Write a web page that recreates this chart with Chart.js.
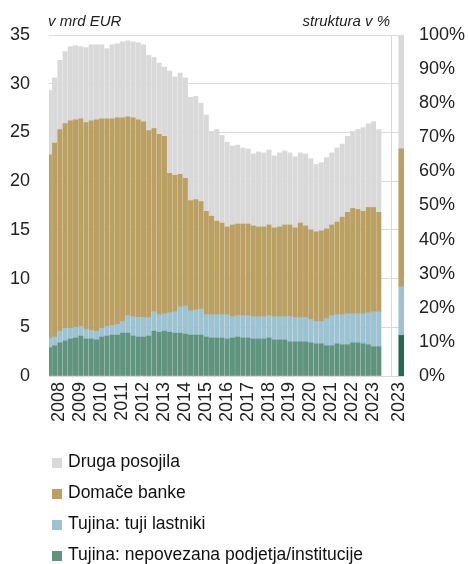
<!DOCTYPE html>
<html>
<head>
<meta charset="utf-8">
<script src="https://cdn.jsdelivr.net/npm/chart.js@4.4.1/dist/chart.umd.min.js"></script>
<style>
  body { margin: 0; background: #fff; font-family: "Liberation Sans", Arial, sans-serif; }
  #wrap { position: relative; width: 468px; height: 564px; overflow: hidden; }
  #chart { position: absolute; left: 0; top: 0; }
  .note { position: absolute; top: 12px; font-size: 15px; font-style: italic; color: #222; }
  #legend { position: absolute; left: 52px; top: 446px; font-size: 17.5px; color: #111; }
  #legend div { height: 31px; line-height: 31px; white-space: nowrap; }
  #legend span { display: inline-block; width: 10px; height: 10px; margin-right: 6px; vertical-align: -1px; }
</style>
</head>
<body>
<div id="wrap">
  <canvas id="chart" width="468" height="564"></canvas>
  <div class="note" style="left:48px">v mrd EUR</div>
  <div class="note" style="right:78px">struktura v %</div>
  <div id="legend"></div>
</div>
<script>
// cetrtletja 2008Q1 - 2023Q4, v mrd EUR
const years = ['2008','2009','2010','2011','2012','2013','2014','2015','2016','2017','2018','2019','2020','2021','2022','2023'];

const tujinaPodjetja = [
  2.9,3.1,3.4,3.6, 3.8,3.9,4.1,3.8, 3.8,3.7,4.0,4.1, 4.2,4.2,4.4,4.4,
  4.1,4.0,4.0,4.1, 4.6,4.5,4.6,4.5, 4.4,4.4,4.3,4.2, 4.2,4.2,4.0,3.9,
  3.9,3.9,3.8,3.9, 4.0,3.9,3.9,3.8, 3.8,3.8,3.9,3.7, 3.7,3.7,3.5,3.5,
  3.5,3.5,3.4,3.3, 3.3,3.1,3.1,3.3, 3.2,3.2,3.4,3.4, 3.3,3.2,3.0,3.0
];
const tujinaLastniki = [
  1.0,0.9,1.2,1.3, 1.1,1.1,1.0,1.0, 0.9,0.9,0.9,1.0, 1.0,1.1,1.2,1.8,
  2.0,2.0,2.0,1.9, 2.0,1.8,1.8,2.0, 2.2,2.7,2.9,2.5, 2.6,2.7,2.3,2.4,
  2.4,2.4,2.5,2.2, 2.2,2.3,2.3,2.3, 2.3,2.3,2.3,2.4, 2.4,2.4,2.6,2.5,
  2.5,2.5,2.4,2.3, 2.3,2.8,3.1,3.0, 3.1,3.2,3.0,3.0, 3.1,3.3,3.6,3.6
];
const domaceBanke = [
  18.8,19.9,20.7,21.0, 21.3,21.3,21.3,21.2, 21.5,21.7,21.5,21.3, 21.2,21.2,20.9,20.4,
  20.4,20.3,20.1,19.2, 18.8,18.5,18.2,14.3, 14.0,13.6,13.1,11.3, 11.3,11.0,10.6,10.1,
  9.6,9.4,9.0,9.4, 9.4,9.4,9.4,9.3, 9.2,9.2,9.3,9.1, 9.2,9.4,9.4,9.2,
  9.7,9.4,9.2,9.2, 9.3,9.2,9.3,9.5, 10.0,10.4,10.8,10.7, 10.5,10.8,10.7,10.2
];
const drugaPosojila = [
  6.6,6.7,7.1,7.4, 7.6,7.6,7.4,7.7, 7.8,7.7,7.6,7.2, 7.6,7.6,7.8,7.8,
  7.8,7.9,7.9,7.7, 7.3,7.3,7.1,10.5, 10.1,10.4,10.3,10.6, 10.6,10.1,9.9,8.7,
  9.4,9.0,8.7,8.1, 8.1,7.8,7.7,7.4, 7.7,7.6,7.7,7.4, 7.6,7.6,7.4,7.3,
  7.2,7.4,7.3,6.9, 7.0,7.3,7.4,7.6, 7.5,7.8,7.9,8.2, 8.6,8.6,8.8,8.5
];

// struktura v % (zadnje cetrtletje)
const strukturaLabel = '2023';
const strukturaPct = [11.9, 14.3, 40.4, 33.4]; // podjetja, lastniki, domace banke, druga

const names = ['Tujina: nepovezana podjetja/institucije', 'Tujina: tuji lastniki', 'Domače banke', 'Druga posojila'];
const colors = ['#60947f', '#9dc3d2', '#baa062', '#d9d9d9'];
const pctColors = ['#216a4f', '#9dc3d2', '#baa062', '#d9d9d9'];

const PCT_X = 66.4;
const SPLIT_X = 65;

const quarters = [];
years.forEach(y => ['Q1','Q2','Q3','Q4'].forEach(q => quarters.push(y + q)));

const tickPos = years.map((y, i) => i * 4 + 1.5).concat([SPLIT_X, PCT_X]);
const tickText = years.concat(['', strukturaLabel]);

const series = [tujinaPodjetja, tujinaLastniki, domaceBanke, drugaPosojila];

const datasets = series.map((vals, k) => ({
    label: names[k],
    data: vals.map((v, i) => ({ x: i, y: v })),
    backgroundColor: colors[k],
    barThickness: 4.4,
    xAxisID: 'x',
    yAxisID: 'y',
    stack: 'mrd'
}));

strukturaPct.forEach((v, k) => {
    datasets.push({
        label: names[k] + ' %',
        data: [{ x: PCT_X, y: v }],
        backgroundColor: pctColors[k],
        barThickness: 10,
        xAxisID: 'x2',
        yAxisID: 'y2',
        stack: 'pct'
    });
});

const font = { family: '"Liberation Sans", Arial, sans-serif', size: 18 };

new Chart(document.getElementById('chart'), {
    type: 'bar',
    data: { datasets: datasets },
    options: {
        responsive: false,
        animation: false,
        layout: { padding: { left: 10, right: 3, top: 35, bottom: 142 } },
        plugins: { legend: { display: false }, tooltip: { enabled: false } },
        scales: {
            x: {
                type: 'linear',
                offset: false,
                min: -0.5,
                max: 67.4,
                stacked: true,
                afterBuildTicks: s => { s.ticks = tickPos.map(v => ({ value: v })); },
                afterFit: s => { s.height = 46; s.paddingLeft = 0; s.paddingRight = 0; },
                ticks: {
                    autoSkip: false,
                    minRotation: 90,
                    maxRotation: 90,
                    padding: 6,
                    color: '#222',
                    font: font,
                    callback: (v, i) => tickText[i]
                },
                grid: {
                    offset: false,
                    drawTicks: false,
                    color: c => (c.tick && c.tick.value === SPLIT_X) ? '#d9d9d9' : 'rgba(0,0,0,0)'
                },
                border: { display: false }
            },
            x2: {
                type: 'linear',
                offset: false,
                min: -0.5,
                max: 67.4,
                stacked: true,
                display: false
            },
            y: {
                position: 'left',
                stacked: true,
                min: 0,
                max: 35,
                afterFit: s => { s.width = 39; },
                ticks: { stepSize: 5, padding: 19, color: '#222', font: font },
                grid: { color: '#d9d9d9', drawTicks: false },
                border: { display: false }
            },
            y2: {
                position: 'right',
                stacked: true,
                min: 0,
                max: 100,
                afterFit: s => { s.width = 61; },
                ticks: { stepSize: 10, padding: 15, color: '#222', font: font, callback: v => v + '%' },
                grid: { display: false, drawTicks: false },
                border: { display: false }
            }
        }
    }
});

// legenda
const legend = document.getElementById('legend');
[3, 2, 1, 0].forEach(k => {
    const row = document.createElement('div');
    row.innerHTML = '<span style="background:' + colors[k] + '"></span>' + names[k];
    legend.appendChild(row);
});
</script>
</body>
</html>
